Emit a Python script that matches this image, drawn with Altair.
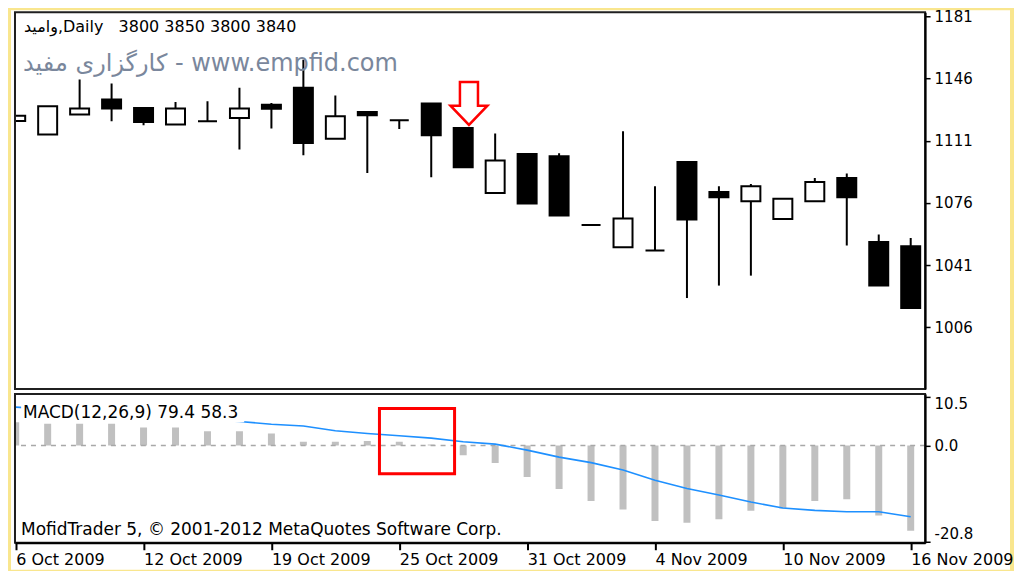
import json
import altair as alt
import pandas as pd

# ---------------- data ----------------
idx = list(range(29))
opens = [1122.0, 1114.4, 1125.7, 1134.1, 1129.4, 1120.1, 1121.9, 1123.8, 1131.2, 1140.7,
         1112.1, 1127.1, 1122.5, 1131.9, 1118.1, 1081.6, 1103.5, 1102.2, 1063.6, 1051.0,
         1049.2, 1099.0, 1082.1, 1076.9, 1066.9, 1076.9, 1090.0, 1054.0, 1051.6]
highs = [1125.0, 1130.4, 1145.4, 1143.1, 1129.4, 1132.8, 1133.2, 1140.7, 1132.2, 1156.5,
         1136.4, 1127.1, 1122.5, 1131.9, 1118.1, 1115.0, 1103.5, 1103.9, 1063.6, 1116.3,
         1085.3, 1099.0, 1085.3, 1086.6, 1078.4, 1090.0, 1092.5, 1058.2, 1056.3]
lows = [1122.0, 1114.4, 1125.7, 1121.9, 1119.7, 1120.1, 1121.9, 1106.0, 1117.8, 1102.8,
        1112.1, 1092.8, 1117.6, 1090.4, 1096.0, 1081.6, 1075.6, 1068.9, 1063.6, 1051.0,
        1049.2, 1022.5, 1029.5, 1035.1, 1066.9, 1076.9, 1052.0, 1029.5, 1016.9]
closes = [1125.0, 1130.4, 1129.1, 1129.1, 1121.5, 1129.1, 1121.9, 1129.1, 1129.0, 1109.7,
          1124.7, 1125.3, 1122.5, 1114.0, 1096.0, 1099.8, 1075.6, 1068.9, 1063.6, 1067.2,
          1049.2, 1066.6, 1079.2, 1085.3, 1078.4, 1087.8, 1079.2, 1029.5, 1016.9]

hist = [5.0, 4.7, 4.7, 4.7, 3.9, 3.9, 3.1, 3.1, 2.6, 0.8, 0.8, 1.0, 0.8, 0.2, -2.1,
        -3.8, -6.8, -9.4, -12.0, -13.8, -16.3, -16.7, -15.9, -14.1, -13.6, -12.0, -11.6,
        -15.1, -18.4]
signal = [8.3, 7.9, 7.4, 7.0, 6.5, 6.1, 5.6, 5.2, 4.6, 4.2, 3.2, 2.6, 2.1, 1.6, 0.8,
          0.3, -1.0, -2.5, -3.7, -5.3, -7.5, -9.3, -10.7, -12.2, -13.5, -14.0, -14.3,
          -14.3, -15.4]

tick_idx = [0, 4, 8, 12, 16, 20, 24, 28]
tick_labels = ["6 Oct 2009", "12 Oct 2009", "19 Oct 2009", "25 Oct 2009",
               "31 Oct 2009", "4 Nov 2009", "10 Nov 2009", "16 Nov 2009"]
price_ticks = [1006, 1041, 1076, 1111, 1146, 1181]
macd_ticks = [-20.8, 0.0, 10.5]

arrow_idx = [14.18]
arrow_price = [1131.9]
box_idx = [11.38, 13.73]
box_macd = [8.0, -6.1]
label_box_idx = [0.17, 7.15]
label_box_macd = [9.8, 5.0]

header = "وامید,Daily\u00a0\u00a0\u00a03800 3850 3800 3840"
watermark = "کارگزاری مفید - www.empfid.com"
macd_label = "MACD(12,26,9) 79.4 58.3"
copyright_text = "MofidTrader 5, © 2001-2012 MetaQuotes Software Corp."

# ---------------- tables ----------------
candles = pd.DataFrame({"i": idx, "open": opens, "high": highs, "low": lows, "close": closes})
macd = pd.DataFrame({"i": idx, "hist": hist, "signal": signal})
one = pd.DataFrame({"k": [0]})
arrow_df = pd.DataFrame({"i": arrow_idx, "p": arrow_price})

W, H1, H2 = 911, 377, 149
FONT = "DejaVu Sans"

xs = alt.Scale(domain=[-0.022, 28.45], nice=False, zero=False, padding=0)
ps = alt.Scale(domain=[971.4, 1183.2], nice=False, zero=False, padding=0)
ms = alt.Scale(domain=[-21.0, 11.15], nice=False, zero=False, padding=0)

price_axis = alt.Axis(orient="right", values=price_ticks, format="d", tickSize=5,
                      labelPadding=4, labelFont=FONT, labelFontSize=15, labelColor="black",
                      tickColor="black", tickWidth=1.5, domainColor="black", domainWidth=2,
                      grid=False, title=None, zindex=2)
macd_axis = alt.Axis(orient="right", values=macd_ticks, tickSize=5, labelPadding=4,
                     labelExpr="replace(format(datum.value, '.1f'), '\u2212', '-')",
                     labelFlush=6, labelFont=FONT, labelFontSize=15, labelColor="black",
                     tickColor="black", tickWidth=1.5, domainColor="black", domainWidth=2,
                     grid=False, title=None, zindex=2)
x_axis = alt.Axis(values=tick_idx,
                  labelExpr=f"{json.dumps(tick_labels)}[indexof({json.dumps(tick_idx)}, datum.value)]",
                  labelAlign="left", labelFlush=False, tickSize=7, labelPadding=2,
                  labelFont=FONT, labelFontSize=16, labelColor="black", tickColor="black",
                  tickWidth=2, domainColor="black", domainWidth=2, grid=False, title=None,
                  zindex=2)

xq = alt.X("i:Q", scale=xs, axis=None)

# ---------------- price panel ----------------
bg_top = alt.Chart(one).mark_rect(fill="white").encode(
    x=alt.value(-4), x2=alt.value(996), y=alt.value(-2), y2=alt.value(H1 + 5))

wicks = alt.Chart(candles).mark_rule(color="black", strokeWidth=2, clip=True).encode(
    x=xq, y=alt.Y("low:Q", scale=ps, axis=price_axis), y2="high:Q")

bodies = alt.Chart(candles).mark_bar(size=19, stroke="black", strokeWidth=2, clip=True).encode(
    x=xq, y=alt.Y("open:Q", scale=ps, axis=price_axis), y2="close:Q",
    fill=alt.condition("datum.close >= datum.open", alt.value("white"), alt.value("black")))

arrow = alt.Chart(arrow_df).mark_point(
    shape="M-0.42,-1L0.42,-1L0.42,0.1L0.86,0.1L0,1L-0.86,0.1L-0.42,0.1Z",
    size=1849, filled=True, fill="white", stroke="#FF0000", strokeWidth=2.5, opacity=1
).encode(x=xq, y=alt.Y("p:Q", scale=ps, axis=price_axis))

header_t = alt.Chart(one).mark_text(text=header, align="left", baseline="middle", font=FONT,
                                    fontSize=16, color="black").encode(
    x=alt.value(9), y=alt.value(15))
water_t = alt.Chart(one).mark_text(text=watermark, align="left", baseline="middle", font=FONT,
                                   fontSize=24, color="#7a879c").encode(
    x=alt.value(8), y=alt.value(52))
frame_top = alt.Chart(one).mark_rect(filled=False, stroke="#202020", strokeWidth=2).encode(
    x=alt.value(0), x2=alt.value(W), y=alt.value(0), y2=alt.value(H1))

top = alt.layer(bg_top, wicks, bodies, water_t, arrow, header_t, frame_top).properties(
    width=W, height=H1)

# ---------------- MACD panel ----------------
xb = alt.X("i:Q", scale=xs, axis=x_axis)

bg_bot = alt.Chart(one).mark_rect(fill="white").encode(
    x=alt.value(-4), x2=alt.value(996), y=alt.value(0), y2=alt.value(176))

bars = alt.Chart(macd).mark_bar(size=7, color="#C0C0C0", clip=True).encode(
    x=xb, y=alt.Y("hist:Q", scale=ms, axis=macd_axis), y2=alt.datum(0))

zero = alt.Chart(one).mark_rule(color="#A8A8A8", strokeWidth=1.5, strokeDash=[5, 5]).encode(
    y=alt.Y(datum=0, scale=ms, axis=macd_axis))

line = alt.Chart(macd).mark_line(color="#1E90FF", strokeWidth=1.6, clip=True).encode(
    x=xb, y=alt.Y("signal:Q", scale=ms, axis=macd_axis))

lbl_bg = alt.Chart(one).mark_rect(fill="white").encode(
    x=alt.X(datum=label_box_idx[0], scale=xs, axis=x_axis), x2=alt.datum(label_box_idx[1]),
    y=alt.Y(datum=label_box_macd[0], scale=ms, axis=macd_axis), y2=alt.datum(label_box_macd[1]))

macd_t = alt.Chart(one).mark_text(text=macd_label, align="left", baseline="middle", font=FONT,
                                  fontSize=17, color="black").encode(
    x=alt.value(8), y=alt.value(19))
copy_t = alt.Chart(one).mark_text(text=copyright_text, align="left", baseline="middle",
                                  font=FONT, fontSize=17, color="black").encode(
    x=alt.value(6), y=alt.value(136))

red_box = alt.Chart(one).mark_rect(filled=False, stroke="#FF0000", strokeWidth=3).encode(
    x=alt.X(datum=box_idx[0], scale=xs, axis=x_axis), x2=alt.datum(box_idx[1]),
    y=alt.Y(datum=box_macd[0], scale=ms, axis=macd_axis), y2=alt.datum(box_macd[1]))

frame_bot = alt.Chart(one).mark_rect(filled=False, stroke="#202020", strokeWidth=2).encode(
    x=alt.value(0), x2=alt.value(W), y=alt.value(0), y2=alt.value(H2))

bottom = alt.layer(bg_bot, bars, zero, line, lbl_bg, macd_t, copy_t, red_box, frame_bot
                   ).properties(width=W, height=H2)

chart = alt.vconcat(top, bottom, spacing=5, bounds="flush").properties(
    padding={"left": 2, "top": 0, "right": 0, "bottom": 0},
    background="#F9E68E",
).configure_view(stroke="transparent")

chart.save("out.html", embed_options={"renderer": "svg", "actions": False})
